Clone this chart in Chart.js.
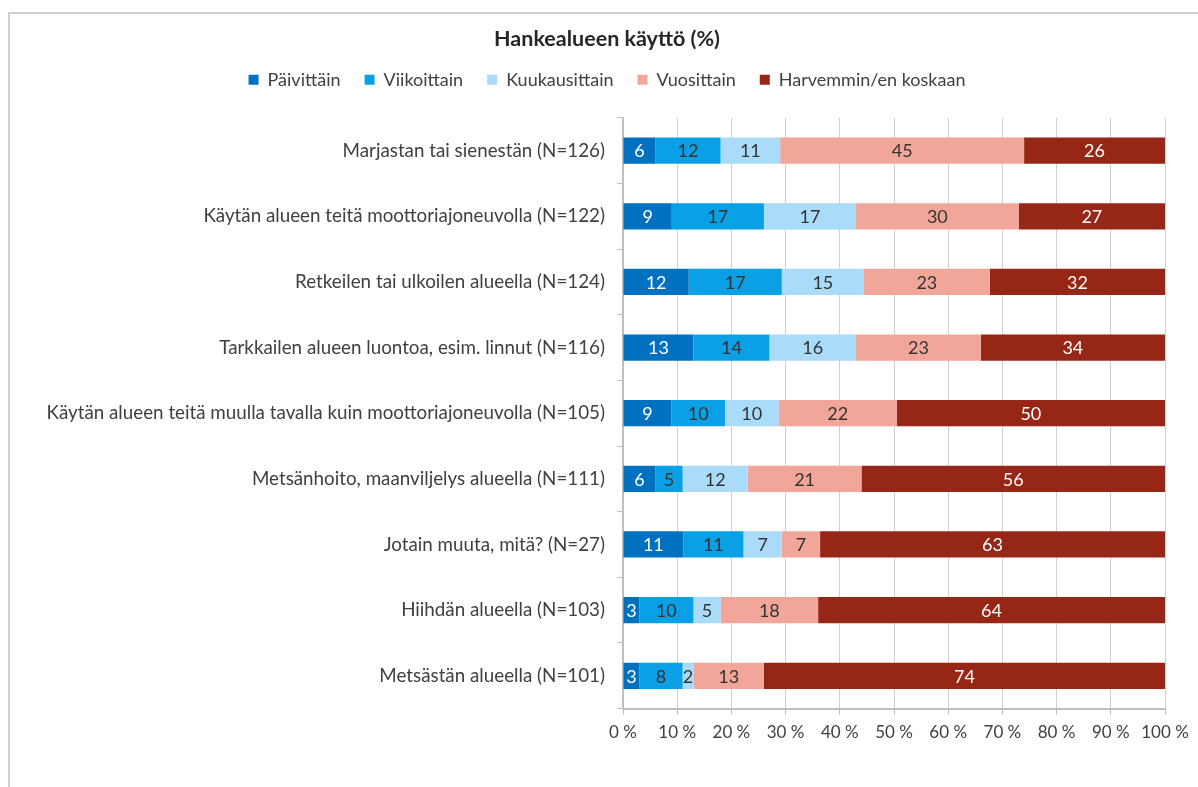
<!DOCTYPE html>
<html>
<head>
<meta charset="utf-8">
<script src="https://cdn.jsdelivr.net/npm/chart.js@4/dist/chart.umd.min.js"></script>
<style>
    html, body { margin: 0; padding: 0; background: #fff; }
    #wrap { position: relative; width: 1198px; height: 787px; }
    #frame { position: absolute; left: 8px; top: 12px; right: 0; bottom: 0;
             border-left: 2px solid #d0d0d0; border-top: 2px solid #d0d0d0; }
    #chart { position: absolute; left: 0; top: 0; }
</style>
</head>
<body>
<div id="wrap">
    <div id="frame"></div>
    <canvas id="chart" width="1198" height="787"></canvas>
</div>
<script>
// Kategoriat (ylhäältä alas)
const categories = [
    'Marjastan tai sienestän (N=126)',
    'Käytän alueen teitä moottoriajoneuvolla (N=122)',
    'Retkeilen tai ulkoilen alueella (N=124)',
    'Tarkkailen alueen luontoa, esim. linnut (N=116)',
    'Käytän alueen teitä muulla tavalla kuin moottoriajoneuvolla (N=105)',
    'Metsänhoito, maanviljelys alueella (N=111)',
    'Jotain muuta, mitä? (N=27)',
    'Hiihdän alueella (N=103)',
    'Metsästän alueella (N=101)'
];

// Sarjojen arvot (%)
const paivittain    = [6, 9, 12, 13, 9, 6, 11, 3, 3];
const viikoittain   = [12, 17, 17, 14, 10, 5, 11, 10, 8];
const kuukausittain = [11, 17, 15, 16, 10, 12, 7, 5, 2];
const vuosittain    = [45, 30, 23, 23, 22, 21, 7, 18, 13];
const harvemmin     = [26, 27, 32, 34, 50, 56, 63, 64, 74];

const seriesNames = ['Päivittäin', 'Viikoittain', 'Kuukausittain', 'Vuosittain', 'Harvemmin/en koskaan'];
const xTicks = [0, 10, 20, 30, 40, 50, 60, 70, 80, 90, 100];

const allSeries = [paivittain, viikoittain, kuukausittain, vuosittain, harvemmin];
const colors = ['#0070c0', '#0aa0e6', '#aadcfa', '#f2a699', '#962615'];
const labelColors = ['#ffffff', '#333333', '#333333', '#333333', '#ffffff'];

// 100 % pinottu: jokainen rivi skaalataan summaan 100
const rowSums = categories.map((c, i) => allSeries.reduce((s, arr) => s + arr[i], 0));

const FONT = 'Lato, "Open Sans", sans-serif';
Chart.defaults.font.family = FONT;
Chart.defaults.color = '#404040';

// Arvojen piirto palkkien keskelle
const barLabels = {
    id: 'barLabels',
    afterDatasetsDraw(chart) {
        const ctx = chart.ctx;
        ctx.save();
        ctx.font = '18px ' + FONT;
        ctx.textAlign = 'center';
        ctx.textBaseline = 'middle';
        chart.data.datasets.forEach((ds, di) => {
            const meta = chart.getDatasetMeta(di);
            meta.data.forEach((bar, i) => {
                ctx.fillStyle = labelColors[di];
                ctx.fillText(String(allSeries[di][i]), (bar.x + bar.base) / 2, bar.y + 1);
            });
        });
        ctx.restore();
    }
};

new Chart(document.getElementById('chart').getContext('2d'), {
    type: 'bar',
    data: {
        labels: categories,
        datasets: allSeries.map((arr, di) => ({
            label: seriesNames[di],
            data: arr.map((v, i) => v / rowSums[i] * 100),
            backgroundColor: colors[di],
            borderWidth: 0,
            barPercentage: 0.4,
            categoryPercentage: 1
        }))
    },
    options: {
        indexAxis: 'y',
        responsive: false,
        animation: false,
        layout: { padding: { left: 16, right: 0, top: 18, bottom: 36 } },
        plugins: {
            title: {
                display: true,
                text: 'Hankealueen käyttö (%)',
                color: '#262626',
                font: { size: 21.5, weight: 'bold', family: FONT },
                padding: { top: 8, bottom: -5 }
            },
            legend: {
                position: 'top',
                labels: {
                    boxWidth: 10,
                    boxHeight: 10,
                    padding: 24,
                    color: '#404040',
                    font: { size: 18, family: FONT }
                }
            },
            tooltip: { enabled: false }
        },
        scales: {
            x: {
                stacked: true,
                min: 0,
                max: 100,
                afterBuildTicks(scale) {
                    scale.ticks = xTicks.map(v => ({ value: v }));
                },
                ticks: {
                    callback: v => v + ' %',
                    color: '#404040',
                    font: { size: 17 },
                    padding: 8,
                    maxRotation: 0
                },
                grid: { color: '#d0d0d0', tickLength: 6, tickColor: '#bfbfbf' },
                border: { color: '#bfbfbf', width: 2 }
            },
            // tyhjä akseli ylös, siirtää piirtoalueen yläreunaa
            xTop: {
                type: 'linear',
                position: 'top',
                display: true,
                afterFit(scale) { scale.height = 19; },
                ticks: { display: false },
                grid: { display: false },
                border: { display: false }
            },
            y: {
                stacked: true,
                afterFit(scale) { scale.width = 607; },
                ticks: {
                    color: '#404040',
                    font: { size: 18.8 },
                    padding: 12
                },
                grid: { offset: true, drawOnChartArea: false, tickLength: 6, color: '#bfbfbf' },
                border: { color: '#bfbfbf', width: 2 }
            },
            // tyhjä akseli oikealle reunalle, pitää piirtoalueen oikean reunan paikallaan
            yRight: {
                type: 'category',
                position: 'right',
                display: true,
                afterFit(scale) { scale.width = 33; },
                ticks: { display: false },
                grid: { display: false },
                border: { display: false }
            }
        }
    },
    plugins: [barLabels]
});
</script>
</body>
</html>
